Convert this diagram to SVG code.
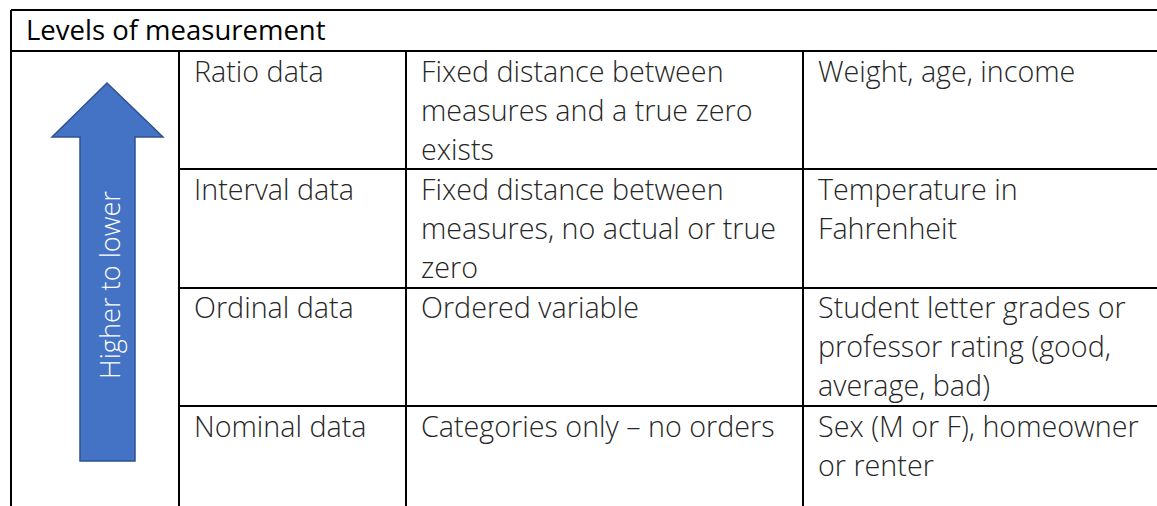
<svg xmlns="http://www.w3.org/2000/svg" width="1157" height="506" viewBox="0 0 1157 506">
<style>
.t{font-family:"Open Sans","Noto Sans",sans-serif;font-size:28.7px;font-weight:300;fill:#262626}
.h{font-family:"Open Sans","Noto Sans",sans-serif;font-size:27.5px;fill:#000}
.l{stroke:#000;stroke-width:2;fill:none}
</style>
<rect width="1157" height="506" fill="#fff"/>
<g id="grid">
<path class="l" d="M11,10H1157M11,51H1157M11,10V506M179,51V506M406,51V506M803,51V506M179,169H1157M179,288H1157M179,406H1157"/>
</g>
<g id="title"><text class="h" x="26" y="40">Levels of measurement</text></g>
<g id="arrow">
<path d="M107,83L163,137H135V461H80V137H52Z" fill="#4472C4" stroke="#2F528F" stroke-width="1.5"/>
<text transform="translate(120,285) rotate(-90)" text-anchor="middle" font-family="'Open Sans','Noto Sans',sans-serif" font-size="27.2" font-weight="300" fill="#fff">Higher to lower</text>
</g>
<g id="ratio">
<text class="t" x="194" y="82">Ratio data</text>
<text class="t" x="421" y="82">Fixed distance between</text>
<text class="t" x="421" y="121">measures and a true zero</text>
<text class="t" x="421" y="160">exists</text>
<text class="t" x="818" y="82">Weight, age, income</text>
</g>
<g id="interval">
<text class="t" x="194" y="200">Interval data</text>
<text class="t" x="421" y="200">Fixed distance between</text>
<text class="t" x="421" y="239">measures, no actual or true</text>
<text class="t" x="421" y="278">zero</text>
<text class="t" x="818" y="200">Temperature in</text>
<text class="t" x="818" y="239">Fahrenheit</text>
</g>
<g id="ordinal">
<text class="t" x="194" y="318">Ordinal data</text>
<text class="t" x="421" y="318">Ordered variable</text>
<text class="t" x="818" y="318">Student letter grades or</text>
<text class="t" x="818" y="357">professor rating (good,</text>
<text class="t" x="818" y="396">average, bad)</text>
</g>
<g id="nominal">
<text class="t" x="194" y="437">Nominal data</text>
<text class="t" x="421" y="437">Categories only – no orders</text>
<text class="t" x="818" y="437">Sex (M or F), homeowner</text>
<text class="t" x="818" y="476">or renter</text>
</g>
</svg>
